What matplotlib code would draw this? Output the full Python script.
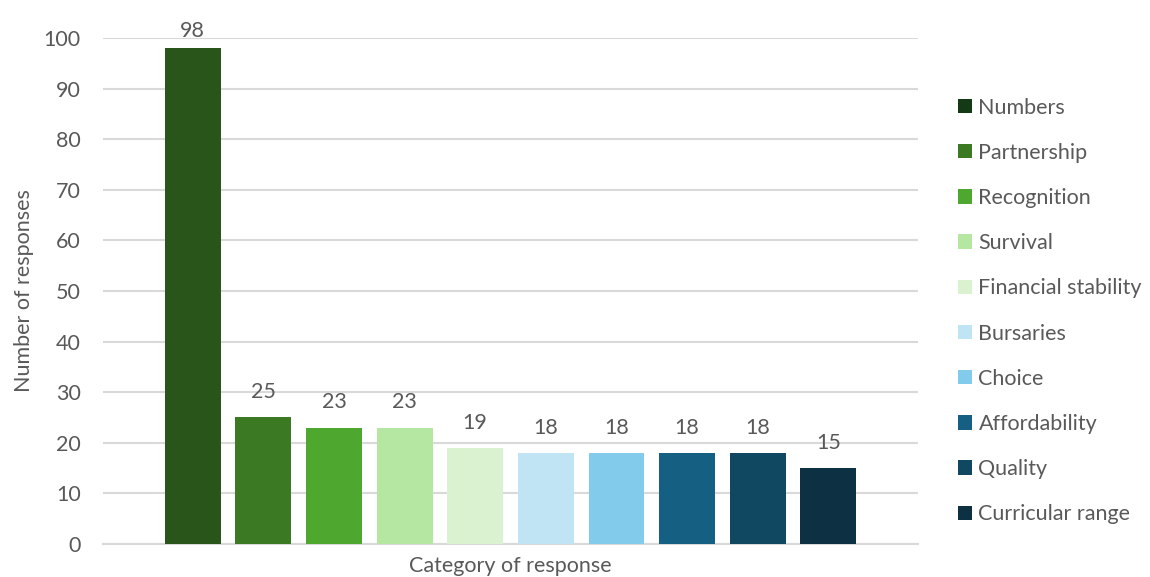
import matplotlib
matplotlib.use('Agg')
import matplotlib.pyplot as plt
from matplotlib.patches import Patch

categories = ['Numbers', 'Partnership', 'Recognition', 'Survival', 'Financial stability',
              'Bursaries', 'Choice', 'Affordability', 'Quality', 'Curricular range']
responses = [98, 25, 23, 23, 19, 18, 18, 18, 18, 15]
bar_colors = ['#29541a', '#3b7a22', '#4ea72e', '#b5e6a2', '#daf2d0',
              '#c1e4f5', '#83cbeb', '#155f82', '#104862', '#0e3043']
legend_colors = ['#133a14'] + bar_colors[1:]

plt.rcParams['font.family'] = ['Lato', 'DejaVu Sans']
text_color = '#595959'
grid_color = '#d9d9d9'
fs = 15.5

fig = plt.figure(figsize=(11.5, 5.77), dpi=100)
ax = fig.add_axes([0.0896, 0.0572, 0.7087, 0.877])

x = list(range(len(categories)))
bars = ax.bar(x, responses, width=0.79, color=bar_colors, zorder=3)
for b, v in zip(bars, responses):
    # keep the tallest label from running off the top of the axes
    off = 5 if v > 90 else 11
    ax.annotate(str(v), (b.get_x() + b.get_width() / 2, v), xytext=(0, off),
                textcoords='offset points', ha='center', va='bottom',
                fontsize=fs, color=text_color)

ax.set_xlim(-1.27, len(categories) - 1 + 1.27)
ax.set_ylim(0, 100)
ax.set_yticks(range(0, 101, 10))
ax.set_xticks([])
ax.yaxis.grid(True, color=grid_color, linewidth=1.5, zorder=0)
ax.tick_params(axis='y', length=0, pad=16, labelsize=fs, labelcolor=text_color)
for side in ['top', 'right', 'left']:
    ax.spines[side].set_visible(False)
ax.spines['bottom'].set_color(grid_color)
ax.spines['bottom'].set_linewidth(1.5)

ax.set_ylabel('Number of responses', fontsize=fs, color=text_color, labelpad=7)
ax.set_xlabel('Category of response', fontsize=fs, color=text_color, labelpad=9)

handles = [Patch(facecolor=c, edgecolor='none') for c in legend_colors]
fig.legend(handles, categories, loc='center left', bbox_to_anchor=(958 / 1150, 1 - 311 / 577),
           frameon=False, fontsize=fs, labelcolor=text_color, handlelength=0.65,
           handleheight=0.65, handletextpad=0.3, labelspacing=1.17, borderpad=0,
           borderaxespad=0)

fig.savefig('out.png', dpi=100)
